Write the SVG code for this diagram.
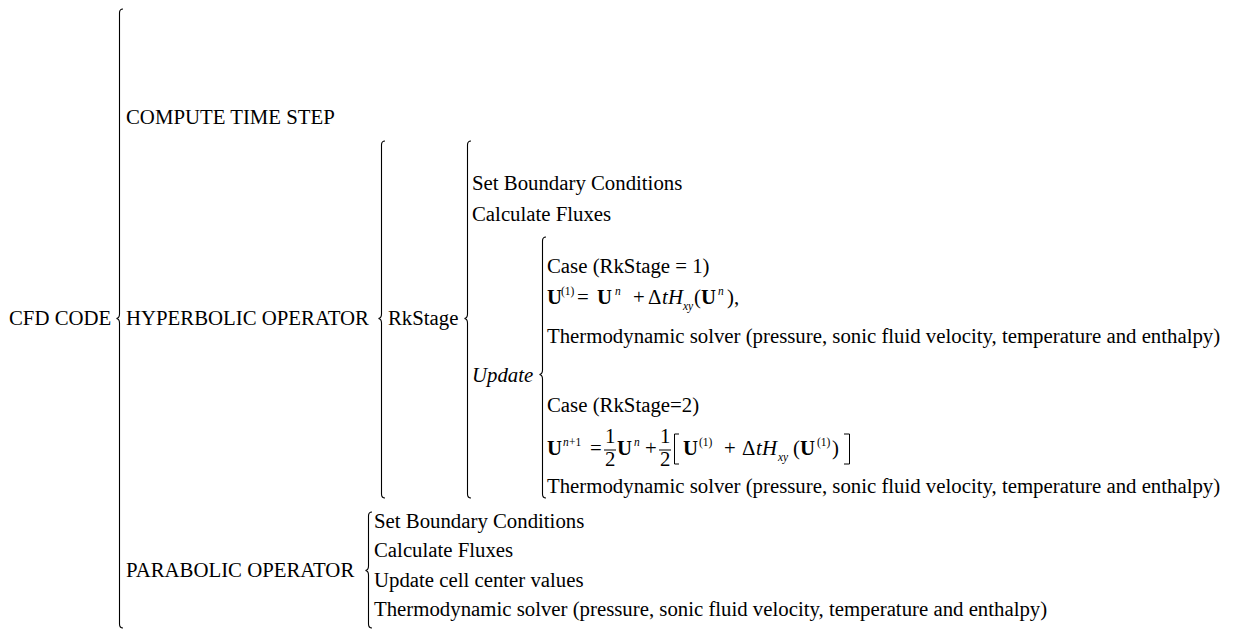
<svg xmlns="http://www.w3.org/2000/svg" width="1236" height="630" viewBox="0 0 1236 630">
<style>
text{font-family:"Liberation Serif","Times New Roman",serif;font-size:20.8px;fill:#000}
.it{font-style:italic}
.b{font-weight:bold}
.sm{font-size:11.5px}
.br{fill:none;stroke:#000;stroke-width:1.1}
</style>
<rect width="1236" height="630" fill="#fff"/>
<g id="connectors">
<path class="br" d="M123,9 Q119.5,9 119.5,13 L119.5,314 Q119.5,318 116.5,318.5 Q119.5,319 119.5,323 L119.5,624 Q119.5,628 123,628"/>
<path class="br" d="M385,141 Q381.5,141 381.5,145 L381.5,314 Q381.5,318 378.5,318.5 Q381.5,319 381.5,323 L381.5,494 Q381.5,498 385,498"/>
<path class="br" d="M471,141 Q467.5,141 467.5,145 L467.5,314 Q467.5,318 464.5,318.5 Q467.5,319 467.5,323 L467.5,494 Q467.5,498 471,498"/>
<path class="br" d="M546,237 Q542.5,237 542.5,241 L542.5,370 Q542.5,374 539.5,374.5 Q542.5,375 542.5,379 L542.5,494 Q542.5,498 546,498"/>
<path class="br" d="M372,512 Q368.5,512 368.5,516 L368.5,566 Q368.5,570 365.5,570.5 Q368.5,571 368.5,575 L368.5,624 Q368.5,628 372,628"/>
</g>
<g id="cfd"><text x="9" y="325">CFD CODE</text></g>
<g id="timestep"><text x="126" y="124">COMPUTE TIME STEP</text></g>
<g id="hyperbolic"><text x="126" y="325">HYPERBOLIC OPERATOR</text></g>
<g id="parabolic"><text x="126" y="577">PARABOLIC OPERATOR</text></g>
<g id="rkstage"><text x="388" y="325">RkStage</text></g>
<g id="hyp-bc"><text x="472" y="190">Set Boundary Conditions</text></g>
<g id="hyp-flux"><text x="472" y="221">Calculate Fluxes</text></g>
<g id="update"><text class="it" x="472" y="382">Update</text></g>
<g id="case1"><text x="547" y="273">Case (RkStage = 1)</text></g>
<g id="eq1">
<text x="547" y="304"><tspan class="b">U</tspan><tspan class="sm" x="561" y="295">(1)</tspan><tspan x="577" y="304">=</tspan><tspan class="b" x="597">U</tspan><tspan class="sm it" x="615" y="295">n</tspan><tspan x="633" y="304">+</tspan><tspan x="648">Δ</tspan><tspan class="it" x="662">t</tspan><tspan class="it" x="668">H</tspan><tspan class="sm it" x="683" y="310">xy</tspan><tspan x="694" y="304">(</tspan><tspan class="b" x="701">U</tspan><tspan class="sm it" x="718" y="295">n</tspan><tspan x="727" y="304">),</tspan></text>
</g>
<g id="thermo1"><text x="547" y="343">Thermodynamic solver (pressure, sonic fluid velocity, temperature and enthalpy)</text></g>
<g id="case2"><text x="547" y="412">Case (RkStage=2)</text></g>
<g id="eq2">
<text x="547" y="455"><tspan class="b">U</tspan><tspan class="sm it" x="563" y="446">n</tspan><tspan class="sm" x="569" y="446">+1</tspan><tspan x="590" y="455">=</tspan><tspan class="b" x="617">U</tspan><tspan class="sm it" x="634" y="446">n</tspan><tspan x="645" y="455">+</tspan><tspan class="b" x="683">U</tspan><tspan class="sm" x="699" y="446">(1)</tspan><tspan x="724" y="455">+</tspan><tspan x="742">Δ</tspan><tspan class="it" x="756">t</tspan><tspan class="it" x="762">H</tspan><tspan class="sm it" x="778" y="461">xy</tspan><tspan x="793" y="455">(</tspan><tspan class="b" x="800">U</tspan><tspan class="sm" x="817" y="446">(1)</tspan><tspan x="832" y="455">)</tspan></text>
<text x="605" y="443">1</text><text x="605" y="466">2</text>
<text x="660" y="443">1</text><text x="660" y="466">2</text>
<path d="M604,450 H616 M659,450 H671" stroke="#000" stroke-width="1"/>
<path d="M679,434 H674.5 V464 H679 M844,434 H849.5 V464 H844" fill="none" stroke="#000" stroke-width="1"/>
</g>
<g id="thermo2"><text x="547" y="493">Thermodynamic solver (pressure, sonic fluid velocity, temperature and enthalpy)</text></g>
<g id="par-bc"><text x="374" y="528">Set Boundary Conditions</text></g>
<g id="par-flux"><text x="374" y="557">Calculate Fluxes</text></g>
<g id="par-update"><text x="374" y="587">Update cell center values</text></g>
<g id="par-thermo"><text x="374" y="616">Thermodynamic solver (pressure, sonic fluid velocity, temperature and enthalpy)</text></g>
</svg>
